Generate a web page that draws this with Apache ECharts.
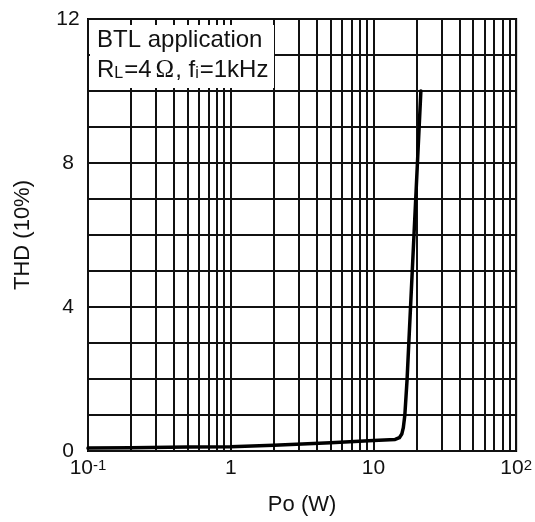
<!DOCTYPE html>
<html>
<head>
<meta charset="utf-8">
<script src="https://cdn.jsdelivr.net/npm/echarts@6/dist/echarts.min.js"></script>
<style>
html,body{margin:0;padding:0;background:#fff;}
#c{width:535px;height:522px;}
</style>
</head>
<body>
<div id="c"></div>
<script>
// Output power (W) and THD values
const po  = [0.1, 0.2, 0.5, 1, 2, 5, 10, 14.2, 15.2, 15.8, 16.2, 16.6, 17.2, 21.5];
const thd = [0.08, 0.09, 0.11, 0.12, 0.16, 0.23, 0.29, 0.32, 0.37, 0.47, 0.65, 1.0, 1.97, 10];
// Minor log grid lines (x) and y tick labels
const minorX = [0.2,0.3,0.4,0.5,0.6,0.7,0.8,0.9, 2,3,4,5,6,7,8,9, 20,30,40,50,60,70,80,90];
const yLabels = [0, 4, 8, 12];

const FONT = '"Liberation Sans", Arial, sans-serif';
const GRID_COLOR = '#111';

const chart = echarts.init(document.getElementById('c'), null, {renderer: 'canvas'});
chart.setOption({
  animation: false,
  backgroundColor: '#fff',
  grid: {left: 88, right: 16, top: 19, bottom: 71, show: true, borderColor: '#000', borderWidth: 2, backgroundColor: 'transparent'},
  xAxis: {
    type: 'log', logBase: 10, min: 0.1, max: 100,
    name: 'Po (W)', nameLocation: 'middle', nameGap: 43,
    nameTextStyle: {fontFamily: FONT, fontSize: 22, color: '#111'},
    axisLine: {show: false}, axisTick: {show: false},
    splitLine: {show: true, lineStyle: {color: GRID_COLOR, width: 2}},
    minorSplitLine: {show: false},
    axisLabel: {
      margin: 7, fontFamily: FONT, fontSize: 21, color: '#111',
      showMinLabel: true, showMaxLabel: true,
      formatter: function (v) {
        const e = Math.round(Math.log10(v));
        if (e === 0) return '1';
        if (e === 1) return '10';
        return '10{sup|' + (e < 0 ? '-' : '') + Math.abs(e) + '}';
      },
      rich: {sup: {fontFamily: FONT, fontSize: 15, color: '#111', verticalAlign: 'top', lineHeight: 15}}
    }
  },
  yAxis: {
    type: 'value', min: 0, max: 12, interval: 1,
    name: 'THD (10%)', nameLocation: 'middle', nameGap: 54, nameRotate: 90,
    nameTextStyle: {fontFamily: FONT, fontSize: 22, color: '#111'},
    axisLine: {show: false}, axisTick: {show: false},
    splitLine: {show: true, lineStyle: {color: GRID_COLOR, width: 2}},
    axisLabel: {
      margin: 20, align: 'center', fontFamily: FONT, fontSize: 21, color: '#111',
      formatter: function (v) { return yLabels.indexOf(v) >= 0 ? String(v) : ''; }
    }
  },
  series: [
    {
      type: 'line', data: [], z: 1, silent: true,
      markLine: {
        silent: true, symbol: ['none', 'none'], animation: false,
        label: {show: false},
        lineStyle: {color: GRID_COLOR, width: 2, type: 'solid'},
        emphasis: {disabled: true},
        data: minorX.map(function (v) { return {xAxis: v}; })
      }
    },
    {
      type: 'line', z: 5, symbol: 'none', smooth: false,
      lineStyle: {color: '#000', width: 3.5, join: 'round', cap: 'round'},
      data: po.map(function (p, i) { return [p, thd[i]]; })
    }
  ],
  graphic: [
    {type: 'rect', z: 100, shape: {x: 90, y: 25, width: 184, height: 63}, style: {fill: '#fff'}},
    {type: 'text', z: 101, x: 97, y: 40,
      style: {text: 'BTL application', font: '24px ' + FONT, fill: '#111', verticalAlign: 'middle', align: 'left'}},
    {type: 'text', z: 101, x: 97, y: 70,
      style: {
        text: '{a|R}{s|L}{a|=4}{o|Ω}{a|, f}{s|i}{a|=1kHz}',
        verticalAlign: 'middle', align: 'left',
        rich: {
          a: {font: '24px ' + FONT, fill: '#111', lineHeight: 26, verticalAlign: 'bottom', height: 26},
          s: {font: '16px ' + FONT, fill: '#111', lineHeight: 18, verticalAlign: 'bottom', height: 18, padding: [0, 1, 0, 0]},
          o: {font: '25px "Liberation Serif", serif', fill: '#111', lineHeight: 26, verticalAlign: 'bottom', height: 26, padding: [0, 1, 0, 4]}
        }
      }}
  ]
});
</script>
</body>
</html>
